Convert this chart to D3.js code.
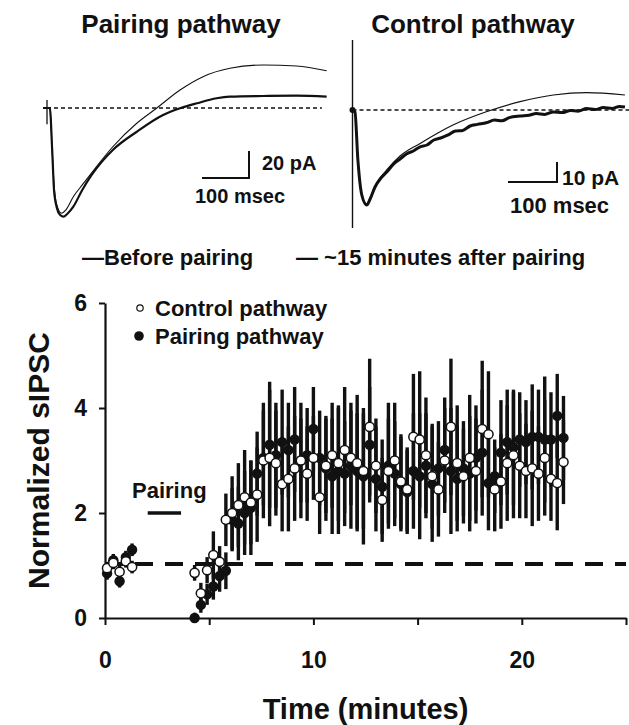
<!DOCTYPE html>
<html><head><meta charset="utf-8">
<script src="https://cdn.jsdelivr.net/npm/d3@7"></script>
<style>
body{margin:0;background:#fff}
svg text{font-family:"Liberation Sans",Arial,Helvetica,sans-serif;font-weight:bold;fill:#111}
</style>
</head><body>
<svg id="c" width="629" height="725"></svg>
<script>
// ---------- Trace data (msec, pA) ----------
const p1BeforeT = [0, 6, 11, 15, 21, 31, 40, 56, 75, 95, 140, 191, 233, 283, 332, 389, 460, 531, 595];
const p1BeforeI = [0, 0, -31, -57, -72, -78, -75.6, -65.7, -57, -48, -28.7, -11.3, -0.2, 13.3, 23.2, 29.4, 31.9, 31.1, 27.6];
const p1AfterT  = [0, 6, 11, 15, 21, 28, 35, 43, 56, 75, 95, 140, 191, 247, 283, 319, 361, 389, 460, 531, 595];
const p1AfterI  = [0, 0, -31, -61, -74, -79.3, -80.5, -78.5, -73.1, -60.7, -49.6, -31.1, -17.6, -5.2, -0.2, 3.5, 7.2, 8.4, 8.9, 9.1, 8.4];
const p2BeforeT = [0, 5, 11, 19, 29, 36, 46, 70, 97, 138, 205, 273, 342, 410, 478, 556];
const p2BeforeI = [0, -1, -25, -42.5, -47, -44, -38, -30, -23, -16.7, -7.5, -0.9, 4.2, 7.5, 8.7, 7.5];
const p2AfterT  = [0, 5, 11, 19, 29, 36, 46, 58, 70, 84, 97, 110, 124, 138, 152, 166, 180, 194, 210, 225, 240, 255, 273, 290, 305, 320, 342, 360, 375, 392, 410, 428, 445, 460, 478, 495, 512, 530, 545, 556];
const p2AfterI  = [0, -1, -25, -42.5, -47.5, -44.5, -38.5, -34, -31, -27, -24.5, -22, -20.5, -18.4, -17.5, -15, -14, -12.6, -10.5, -10.2, -8, -7.2, -6.4, -5.0, -5.4, -3.8, -3.0, -2.6, -1.8, -2.2, -1.0, -1.3, -0.2, -0.6, 0.7, 0.2, 1.2, 0.8, 1.8, 1.5];

// ---------- Time course data ----------
const times = [0.1,0.4,0.7,1.0,1.3,
  4.3,4.6,4.9,5.2,5.5,5.8,6.1,6.4,6.7,7.0,7.3,7.6,7.9,8.2,8.5,8.8,9.1,9.4,9.7,10.0,
  10.3,10.6,10.9,11.2,11.5,11.8,12.1,12.4,12.7,13.0,13.3,13.6,13.9,14.2,14.5,14.8,15.1,15.4,15.7,16.0,
  16.3,16.6,16.9,17.2,17.5,17.8,18.1,18.4,18.7,19.0,19.3,19.6,19.9,20.2,20.5,20.8,21.1,21.4,21.7,22.0];
const controlMean = [0.95,1.05,0.88,1.08,0.97,
  0.86,0.47,0.91,1.20,1.07,1.87,2.00,2.15,2.30,2.20,2.35,3.00,3.05,2.95,2.55,2.65,2.85,3.00,2.75,3.05,
  2.30,2.90,3.10,2.95,3.20,3.05,2.95,2.80,3.64,2.90,2.25,2.80,3.00,2.60,2.45,3.45,3.40,3.10,2.70,2.45,
  3.00,3.64,2.95,2.70,3.05,2.80,3.60,3.50,2.45,2.60,2.95,3.10,2.90,2.80,2.85,2.75,3.05,2.65,2.57,2.97];
const controlErr = [0.12,0.12,0.12,0.12,0.12,
  0.15,0.2,0.25,0.45,0.3,0.5,0.7,0.8,0.9,0.8,0.9,1.1,1.3,1.0,0.9,1.0,1.0,1.1,0.9,0.8,
  0.7,0.9,1.0,1.1,1.2,0.9,1.3,1.1,1.3,0.9,0.8,1.0,1.1,0.9,0.8,1.2,1.3,1.1,1.0,0.9,
  1.0,1.3,1.1,0.9,1.2,1.0,1.3,1.2,0.8,0.9,1.1,1.2,1.0,0.9,1.1,0.9,1.1,0.8,0.9,0.8];
const pairingMean = [0.85,1.10,0.70,1.16,1.30,
  0.00,0.25,0.45,0.60,0.80,0.90,1.87,1.80,2.00,2.10,2.75,3.05,3.30,3.10,3.35,3.20,3.40,3.00,3.10,3.60,
  3.05,2.85,2.70,2.80,2.75,2.90,2.80,2.70,3.30,2.65,2.50,2.90,2.75,2.55,2.40,2.80,2.70,2.90,2.55,2.85,
  3.20,2.80,2.65,2.85,2.75,3.05,3.15,2.57,2.70,3.15,3.35,3.25,3.40,3.35,3.45,3.45,3.40,3.40,3.85,3.43];
const pairingErr = [0.12,0.12,0.12,0.12,0.12,
  0.1,0.15,0.2,0.25,0.3,0.35,0.6,0.7,0.8,0.9,0.8,0.9,1.2,1.0,1.0,0.9,1.0,0.8,0.9,0.8,
  0.9,1.0,1.1,1.2,1.0,1.2,1.1,1.3,1.1,1.0,0.9,1.2,1.0,0.9,0.8,1.1,1.2,1.0,1.1,0.9,
  1.0,1.2,1.0,0.9,1.1,1.0,1.2,0.9,0.7,1.0,1.0,1.1,0.9,0.8,1.0,0.9,1.2,0.9,0.8,0.8];
const baselineLevel = 1.03;
const pairingStart = 2.05, pairingEnd = 3.65;
const xTicks = [0,5,10,15,20,25];
const xTickLabels = ["0","","10","","20",""];
const yTicks = [0,2,4,6];
const yTickLabels = ["0","2","4","6"];

const svg = d3.select('#c');

// ---------- Top traces ----------
const p1x = d3.scaleLinear().domain([0,100]).range([47,94]);
const p1y = d3.scaleLinear().domain([0,20]).range([108,81]);
const p2x = d3.scaleLinear().domain([0,100]).range([352.5,401.5]);
const p2y = d3.scaleLinear().domain([0,10]).range([110,90]);

function trace(T, I, sx, sy, w){
  const line = d3.line().x(d=>sx(d[0])).y(d=>sy(d[1])).curve(d3.curveMonotoneX);
  svg.append('path').attr('d', line(T.map((t,i)=>[t,I[i]])))
    .attr('fill','none').attr('stroke','#111').attr('stroke-width',w).attr('stroke-linejoin','round');
}
svg.append('line').attr('x1',p1x(0)).attr('x2',p1x(585)).attr('y1',p1y(0)).attr('y2',p1y(0))
  .attr('stroke','#111').attr('stroke-width',1.3).attr('stroke-dasharray','4,3');
svg.append('line').attr('x1',p2x(0)).attr('x2',629).attr('y1',p2y(0)).attr('y2',p2y(0))
  .attr('stroke','#111').attr('stroke-width',1.3).attr('stroke-dasharray','4,3');
trace(p1BeforeT,p1BeforeI,p1x,p1y,1.1);
trace(p1AfterT,p1AfterI,p1x,p1y,2.2);
trace(p2BeforeT,p2BeforeI,p2x,p2y,1.2);
trace(p2AfterT,p2AfterI,p2x,p2y,3);
svg.append('line').attr('x1',p1x(0)).attr('x2',p1x(0)).attr('y1',p1y(6)).attr('y2',p1y(-12))
  .attr('stroke','#111').attr('stroke-width',1.3);
svg.append('line').attr('x1',p1x(0)-4).attr('x2',p1x(0)+4).attr('y1',p1y(0)).attr('y2',p1y(0))
  .attr('stroke','#111').attr('stroke-width',2);
svg.append('line').attr('x1',p2x(0)).attr('x2',p2x(0)).attr('y1',p2y(35)).attr('y2',p2y(-59))
  .attr('stroke','#111').attr('stroke-width',1.4);
svg.append('circle').attr('cx',p2x(0)).attr('cy',p2y(0)).attr('r',3).attr('fill','#111');

function scaleBar(cx, cy, sx, sy, ms, pa){
  const w = sx(ms)-sx(0), h = sy(0)-sy(pa);
  svg.append('path').attr('d',`M${cx-w},${cy}H${cx}V${cy-h}`)
    .attr('fill','none').attr('stroke','#111').attr('stroke-width',2);
}
scaleBar(249,178,p1x,p1y,100,20);
scaleBar(557,182,p2x,p2y,100,10);

svg.append('text').attr('x',181).attr('y',33).attr('text-anchor','middle').attr('font-size',26).text('Pairing pathway');
svg.append('text').attr('x',473).attr('y',33).attr('text-anchor','middle').attr('font-size',26).text('Control pathway');
svg.append('text').attr('x',262).attr('y',170).attr('font-size',20).text('20 pA');
svg.append('text').attr('x',195).attr('y',203).attr('font-size',20).text('100 msec');
svg.append('text').attr('x',562).attr('y',185).attr('font-size',21).text('10 pA');
svg.append('text').attr('x',510).attr('y',213).attr('font-size',22).text('100 msec');
svg.append('text').attr('x',82).attr('y',265).attr('font-size',22).text('—Before pairing');
svg.append('text').attr('x',296).attr('y',265).attr('font-size',22).text('— ~15 minutes after pairing');

// ---------- Time course ----------
const x = d3.scaleLinear().domain([0,25]).range([105,626]);
const y = d3.scaleLinear().domain([0,6]).range([618,303]);

const xAxis = svg.append('g').attr('transform','translate(0,618)')
  .call(d3.axisBottom(x).tickValues(xTicks).tickSize(7).tickSizeOuter(0).tickPadding(27)
    .tickFormat((d,i)=>xTickLabels[i]));
const yAxis = svg.append('g').attr('transform','translate(105,0)')
  .call(d3.axisLeft(y).tickValues(yTicks).tickSize(6).tickSizeOuter(0).tickPadding(12)
    .tickFormat((d,i)=>yTickLabels[i]));
[xAxis,yAxis].forEach(g=>{
  g.select('.domain').attr('stroke','#111').attr('stroke-width',2.2);
  g.selectAll('.tick line').attr('stroke','#111').attr('stroke-width',2);
  g.selectAll('.tick text').attr('font-size',23).attr('fill','#111')
    .attr('font-family','"Liberation Sans",Arial,sans-serif').attr('font-weight','bold');
});

svg.append('line').attr('x1',x(0)).attr('x2',x(25)).attr('y1',y(baselineLevel)).attr('y2',y(baselineLevel))
  .attr('stroke','#111').attr('stroke-width',4).attr('stroke-dasharray','18,12');

svg.append('line').attr('x1',x(pairingStart)).attr('x2',x(pairingEnd)).attr('y1',513).attr('y2',513)
  .attr('stroke','#111').attr('stroke-width',3.5);
svg.append('text').attr('x',132).attr('y',498).attr('font-size',22).text('Pairing');

const ctrl = times.map((t,i)=>({t, m:controlMean[i], e:controlErr[i]}));
const pair = times.map((t,i)=>({t, m:pairingMean[i], e:pairingErr[i]}));
const gBars = svg.append('g');
[ctrl, pair].forEach(s=>{
  gBars.selectAll(null).data(s).enter().append('line')
    .attr('x1',d=>x(d.t)).attr('x2',d=>x(d.t))
    .attr('y1',d=>y(Math.max(0,d.m-d.e))).attr('y2',d=>y(d.m+d.e))
    .attr('stroke','#111').attr('stroke-width',3.4);
});
svg.append('g').selectAll('circle').data(pair).enter().append('circle')
  .attr('cx',d=>x(d.t)).attr('cy',d=>y(d.m)).attr('r',5.2).attr('fill','#111');
svg.append('g').selectAll('circle').data(ctrl).enter().append('circle')
  .attr('cx',d=>x(d.t)).attr('cy',d=>y(d.m)).attr('r',4.6).attr('fill','#fff')
  .attr('stroke','#111').attr('stroke-width',1.5);

svg.append('circle').attr('cx',140).attr('cy',308).attr('r',3.2).attr('fill','#fff').attr('stroke','#111').attr('stroke-width',1.2);
svg.append('text').attr('x',155).attr('y',316).attr('font-size',22).text('Control pathway');
svg.append('circle').attr('cx',139).attr('cy',336).attr('r',4.8).attr('fill','#111');
svg.append('text').attr('x',155).attr('y',344).attr('font-size',22).text('Pairing pathway');

svg.append('text').attr('transform',`translate(49,${(y(0)+y(6))/2}) rotate(-90)`)
  .attr('text-anchor','middle').attr('font-size',30).text('Normalized sIPSC');
svg.append('text').attr('x',(x(0)+x(25))/2).attr('y',719).attr('text-anchor','middle')
  .attr('font-size',29).text('Time (minutes)');
</script>
</body></html>
